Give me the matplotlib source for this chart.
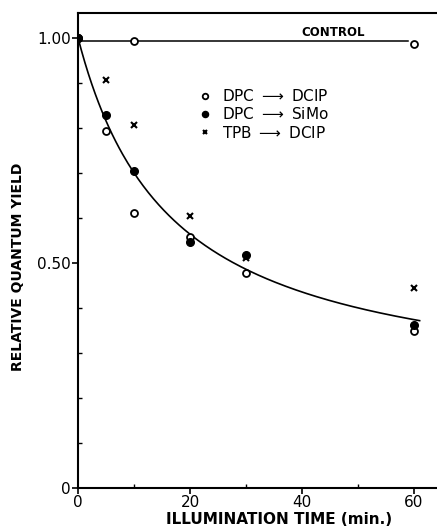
import matplotlib
matplotlib.use("Agg")
import matplotlib.pyplot as plt
import numpy as np

# illumination time (min)
time = [0, 5, 10, 20, 30, 60]
control_time = [0, 10, 60]
control_y = [1.00, 0.992, 0.986]

dpc_dcip = [1.00, 0.792, 0.610, 0.558, 0.477, 0.349]
dpc_simo = [1.00, 0.829, 0.704, 0.547, 0.518, 0.361]
tpb_dcip = [1.00, 0.907, 0.807, 0.605, 0.510, 0.444]

# parameters of the drawn fit curve  y = c + (1-c)/(1+k t)
fit_c = 0.20
fit_k = 0.06

plt.rcParams['font.family'] = ['DejaVu Sans']

fig = plt.figure(figsize=(4.37, 5.31), dpi=100)
ax = fig.add_axes([0.1785, 0.081, 0.8215, 0.8945])

ax.set_xlim(0, 64.1)
ax.set_ylim(0, 1.055)

# control
ctrl_level = np.mean(control_y)
ax.plot([control_time[0], control_time[-1] - 1], [ctrl_level, ctrl_level], color='black', lw=1.1)
ax.plot(control_time, control_y, 'o', mfc='white', mec='black', mew=1.3, ms=5, zorder=3)
ax.text(45.5, 0.998, 'CONTROL', ha='center', va='bottom', fontsize=8.5, fontweight='bold')

# fit curve
tt = np.linspace(0, 61, 200)
ax.plot(tt, fit_c + (1 - fit_c) / (1 + fit_k * tt), color='black', lw=1.2)

h1, = ax.plot(time, dpc_dcip, 'o', mfc='white', mec='black', mew=1.3, ms=5, zorder=3,
              label='DPC $\\longrightarrow$ DCIP')
h2, = ax.plot(time, dpc_simo, 'o', color='black', ms=5.5, zorder=3,
              label='DPC $\\longrightarrow$ SiMo')
h3, = ax.plot(time[1:], tpb_dcip[1:], 'x', color='black', mew=1.5, ms=4, zorder=3,
              label='TPB $\\longrightarrow$ DCIP')

leg = ax.legend(handles=[h1, h2, h3], loc='upper left', bbox_to_anchor=(0.325, 0.855),
                frameon=False, fontsize=11, handlelength=0.6, handletextpad=0.8,
                labelspacing=0.15, borderaxespad=0, markerscale=0.8)

ax.spines['right'].set_visible(False)
for s in ['left', 'bottom', 'top']:
    ax.spines[s].set_linewidth(1.5)

ax.set_xticks([0, 20, 40, 60])
ax.set_xticks([10, 30, 50], minor=True)
ax.set_yticks([0, 0.5, 1.0])
ax.set_yticklabels(['0', '0.50', '1.00'])
ax.set_yticks([0.1, 0.2, 0.3, 0.4, 0.6, 0.7, 0.8, 0.9], minor=True)
ax.tick_params(axis='both', which='major', direction='out', length=4, width=1.2,
               labelsize=11, pad=1)
ax.tick_params(axis='both', which='minor', direction='in', length=3, width=1.0)

ax.set_xlabel('ILLUMINATION TIME (min.)', fontsize=11, fontweight='bold')
ax.set_ylabel('RELATIVE QUANTUM YIELD', fontsize=10, fontweight='bold')
ax.xaxis.set_label_coords(0.56, -0.05)
ax.yaxis.set_label_coords(-0.148, 0.465)

fig.savefig('out.png', dpi=100)
